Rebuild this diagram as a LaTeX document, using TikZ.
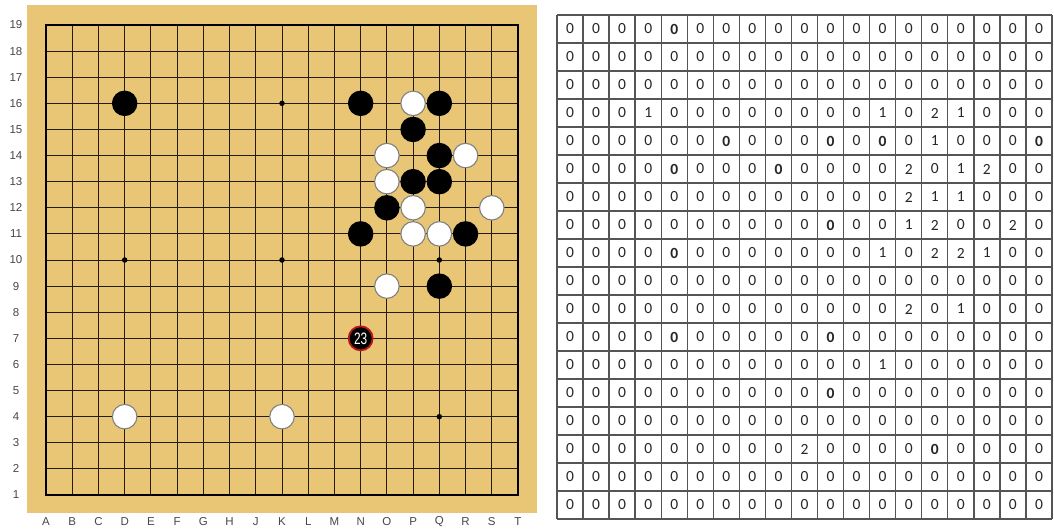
\documentclass[tikz,border=0pt]{standalone}
\usepackage{fontspec}
\setmainfont{Liberation Sans}
\newfontfamily\cellfont{Carlito}
\newfontfamily\narrowfont[FakeStretch=0.72]{Liberation Sans}
\definecolor{wood}{RGB}{232,198,118}
\definecolor{gridline}{RGB}{35,28,15}
\definecolor{tabline}{RGB}{85,85,85}
\definecolor{ringred}{RGB}{185,25,25}
\tikzset{
  gridthin/.style={draw=gridline, line width=0.85pt},
  gridframe/.style={draw=black, line width=2pt},
  lab/.style={font=\fontsize{11.5}{13}\selectfont, text=black!72, inner sep=0pt},
  blackstone/.style={circle, fill=black, minimum size=25.5pt, inner sep=0pt},
  whitestone/.style={circle, fill=white, draw=black!50, line width=1.1pt, minimum size=24.5pt, inner sep=0pt},
  laststone/.style={circle, fill=black, draw=ringred, line width=1.8pt, minimum size=24pt, inner sep=0pt, text=white, font=\narrowfont\fontsize{16.5}{16.5}\selectfont},
  starpt/.style={circle, fill=black, minimum size=5.5pt, inner sep=0pt},
  cell/.style={font=\cellfont\fontsize{15.5}{17}\selectfont, text=black!85, inner sep=0pt},
  tabgrid/.style={draw=tabline, line width=1.4pt}
}
\begin{document}
\begin{tikzpicture}[x=1pt,y=-1pt]
\useasboundingbox (0,0) rectangle (1054,528);
\fill[white] (0,0) rectangle (1054,528);
% ---- board ----
\fill[wood] (27,5) rectangle (537,513);
\foreach \i in {1,...,17} {
  \draw[gridthin] ({46+\i*26.222},25) -- ({46+\i*26.222},495);
  \draw[gridthin] (46,{25+\i*26.111}) -- (518,{25+\i*26.111});
}
\draw[gridframe] (46,25) rectangle (518,495);
% labels
\foreach \r in {1,...,19}
  \node[lab] (row\r) at (16,{495-(\r-1)*26.111}) {\r};
\foreach \c [count=\i from 0] in {A,B,C,D,E,F,G,H,J,K,L,M,N,O,P,Q,R,S,T}
  \node[lab] (col\c) at ({46+\i*26.222},522) {\c};
% star points
\foreach \c/\r in {10/16,4/10,10/10,16/10,16/4}
  \node[starpt] (star\c-\r) at ({46+(\c-1)*26.222},{495-(\r-1)*26.111}) {};
% black stones
\foreach \c/\r in {4/16,13/16,16/16,15/15,16/14,15/13,16/13,14/12,13/11,17/11,16/9}
  \node[blackstone] (b\c-\r) at ({46+(\c-1)*26.222},{495-(\r-1)*26.111}) {};
% white stones
\foreach \c/\r in {15/16,14/14,17/14,14/13,15/12,18/12,15/11,16/11,14/9,4/4,10/4}
  \node[whitestone] (w\c-\r) at ({46+(\c-1)*26.222},{495-(\r-1)*26.111}) {};
% last move
\node[laststone] (move23) at ({46+12*26.222},{495-6*26.111}) {23};
% ---- table ----
\foreach \i in {0,...,19}
  \draw[tabgrid] ({557+\i*26.05},15) -- ({557+\i*26.05},519);
\foreach \j in {0,...,18}
  \draw[tabgrid] (557,{15+\j*28}) -- (1052,{15+\j*28});
\foreach \rowlist [count=\r] in {
 {0,0,0,0,3,0,0,0,0,0,0,0,0,0,0,0,0,0,0},
 {0,0,0,0,0,0,0,0,0,0,0,0,0,0,0,0,0,0,0},
 {0,0,0,0,0,0,0,0,0,0,0,0,0,0,0,0,0,0,0},
 {0,0,0,1,0,0,0,0,0,0,0,0,1,0,2,1,0,0,0},
 {0,0,0,0,0,0,3,0,0,0,3,0,3,0,1,0,0,0,3},
 {0,0,0,0,3,0,0,0,3,0,0,0,0,2,0,1,2,0,0},
 {0,0,0,0,0,0,0,0,0,0,0,0,0,2,1,1,0,0,0},
 {0,0,0,0,0,0,0,0,0,0,3,0,0,1,2,0,0,2,0},
 {0,0,0,0,3,0,0,0,0,0,0,0,1,0,2,2,1,0,0},
 {0,0,0,0,0,0,0,0,0,0,0,0,0,0,0,0,0,0,0},
 {0,0,0,0,0,0,0,0,0,0,0,0,0,2,0,1,0,0,0},
 {0,0,0,0,3,0,0,0,0,0,3,0,0,0,0,0,0,0,0},
 {0,0,0,0,0,0,0,0,0,0,0,0,1,0,0,0,0,0,0},
 {0,0,0,0,0,0,0,0,0,0,3,0,0,0,0,0,0,0,0},
 {0,0,0,0,0,0,0,0,0,0,0,0,0,0,0,0,0,0,0},
 {0,0,0,0,0,0,0,0,0,2,0,0,0,0,3,0,0,0,0},
 {0,0,0,0,0,0,0,0,0,0,0,0,0,0,0,0,0,0,0},
 {0,0,0,0,0,0,0,0,0,0,0,0,0,0,0,0,0,0,0}} {
  \foreach \v [count=\c] in \rowlist {
    \node[cell] (t\r-\c) at ({557+(\c-0.5)*26.05},{15+(\r-0.5)*28}) {\ifnum\v=3 \textbf{0}\else\v\fi};
  }
}
\end{tikzpicture}
\end{document}
